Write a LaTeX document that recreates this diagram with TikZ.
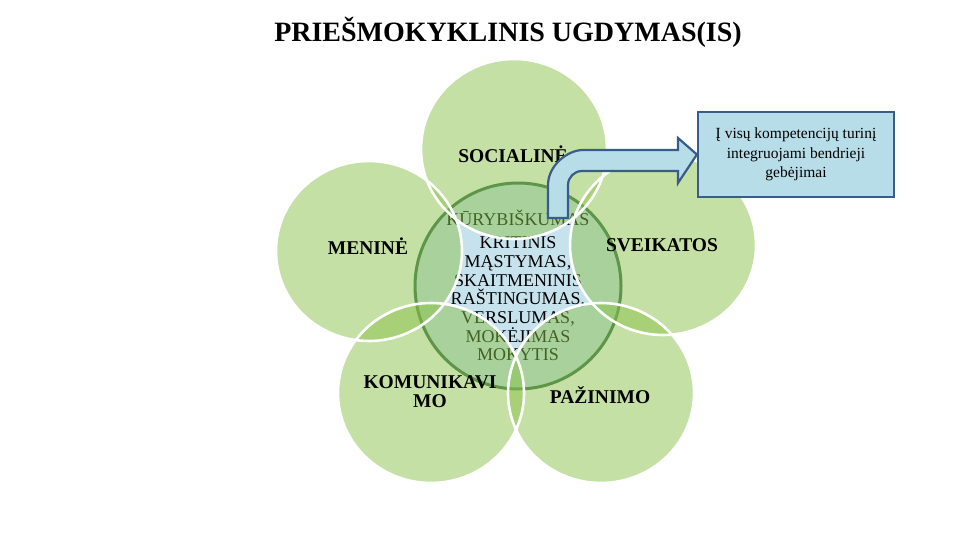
\documentclass[tikz,border=0pt]{standalone}
\usepackage{fontspec}
\setmainfont{Liberation Serif}
\definecolor{petal}{RGB}{139,193,75}
\definecolor{coreblue}{RGB}{198,227,237}
\definecolor{ringgreen}{RGB}{50,105,70}
\definecolor{arrowfill}{RGB}{183,221,232}
\definecolor{arrowline}{RGB}{56,93,138}
\tikzset{
  petalfill/.style={fill=petal,fill opacity=0.5,draw=none},
  petaledge/.style={draw=white,line width=2.6pt},
  petallabel/.style={font=\fontsize{19.5}{19}\selectfont\bfseries,align=center,text=black},
  coretext/.style={font=\fontsize{18}{18.7}\selectfont,align=center,text=black},
  boxtext/.style={font=\fontsize{15.5}{19.5}\selectfont,align=center,text=black},
}
\begin{document}
\begin{tikzpicture}[x=1pt,y=-1pt]
\useasboundingbox (0,0) rectangle (960,540);
% title
\node[font=\fontsize{28}{30}\selectfont\bfseries] (title) at (508,32) {PRIEŠMOKYKLINIS UGDYMAS(IS)};
% central circle
\node[circle,minimum size=206pt,inner sep=0pt,fill=coreblue,draw=ringgreen,line width=3pt] (core) at (518,286) {};
\node[coretext] (kur) at (518,218) {KŪRYBIŠKUMAS};
\node[coretext] (kri) at (518,299) {KRITINIS\\MĄSTYMAS,\\SKAITMENINIS\\RAŠTINGUMAS,\\VERSLUMAS,\\MOKĖJIMAS\\MOKYTIS};
% petals
\coordinate (cs) at (514,149);
\coordinate (cm) at (369,251);
\coordinate (cv) at (663,245);
\coordinate (ck) at (431,393);
\coordinate (cp) at (601,393);
\foreach \c in {cs,cm,cv,ck,cp}{
  \fill[petalfill] (\c) ellipse [x radius=93,y radius=90];
}
\foreach \c in {cs,cm,cv,ck,cp}{
  \draw[petaledge] (\c) ellipse [x radius=93,y radius=90];
}
\node[petallabel] (soc) at (513,154) {SOCIALINĖ};
\node[petallabel] (men) at (368,246) {MENINĖ};
\node[petallabel] (sve) at (662,245) {SVEIKATOS};
\node[petallabel] (kom) at (430,392) {KOMUNIKAVI\\MO};
\node[petallabel] (paz) at (600,395) {PAŽINIMO};
% box
\node[draw=arrowline,fill=arrowfill,line width=2.2pt,minimum width=196pt,minimum height=85pt,inner sep=0pt,boxtext] (box) at (796,154.5) {Į visų kompetencijų turinį\\integruojami bendrieji\\gebėjimai};
% bent arrow
\coordinate (tip) at (box.west);
\draw[draw=arrowline,fill=arrowfill,line width=2.2pt,line join=miter]
  (548,218) -- (548,185) .. controls (548,165.7) and (567.3,150) .. (583,150)
  -- (678,150) -- (678,138) -- (tip) -- (678,183) -- (678,171)
  -- (582,171) .. controls (574.3,171) and (568,177.3) .. (568,185)
  -- (568,218) -- cycle;
\end{tikzpicture}
\end{document}
